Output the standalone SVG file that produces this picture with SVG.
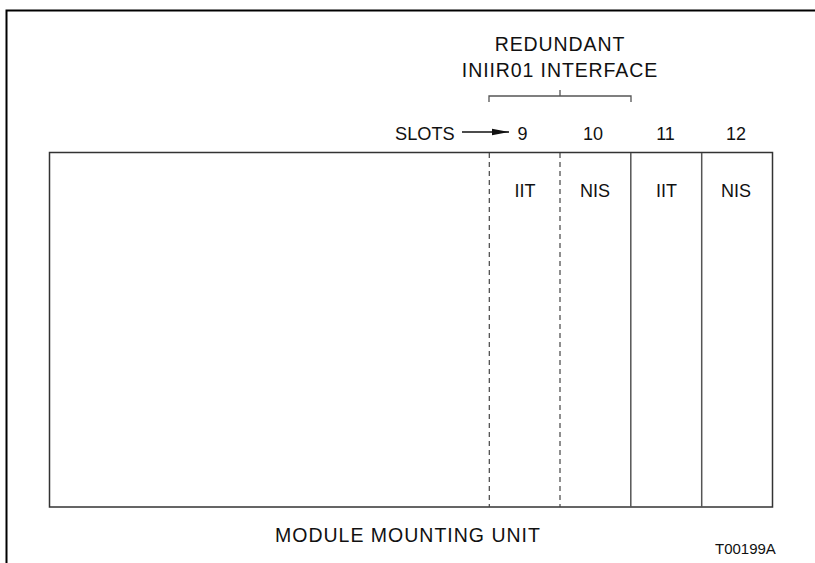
<svg xmlns="http://www.w3.org/2000/svg" width="815" height="563" viewBox="0 0 815 563">
<style>
text{font-family:"Liberation Sans",Arial,sans-serif;fill:#111;}
.t{font-size:19.5px;letter-spacing:0.9px;text-anchor:middle;}
.s{font-size:18px;text-anchor:middle;}
.frame{stroke:#000;stroke-width:2;fill:none;}
.box{stroke:#333;stroke-width:1.5;fill:none;}
.dash{stroke:#444;stroke-width:1.2;stroke-dasharray:5 4;fill:none;}
.solid{stroke:#555;stroke-width:1.5;fill:none;}
.br{stroke:#555;stroke-width:1.3;fill:none;}
</style>
<defs>
<marker id="ah" markerWidth="18" markerHeight="8" refX="17" refY="4" orient="auto" markerUnits="userSpaceOnUse">
<path d="M0,0.8 L17,4 L0,7.2 Z" fill="#111"/>
</marker>
</defs>
<path class="frame" d="M6.5,563 V10.5 H815"/>
<g id="title">
<text class="t" x="560" y="51">REDUNDANT</text>
<text class="t" x="560" y="77">INIIR01 INTERFACE</text>
</g>
<g id="bracket">
<path class="br" d="M489,102 V96 H631 V102 M560,96 V90"/>
</g>
<g id="slots-label">
<text x="395" y="139.5" style="font-size:18.2px">SLOTS</text>
</g>
<g id="slot-numbers">
<text class="s" x="522.5" y="139.5">9</text>
<text class="s" x="593" y="139.5">10</text>
<text class="s" x="665.5" y="139.5">11</text>
<text class="s" x="736" y="139.5">12</text>
</g>
<g id="unit">
<rect class="box" x="49.5" y="152.5" width="723" height="354.5"/>
</g>
<g id="slot9"><text class="s" x="525" y="197">IIT</text></g>
<g id="slot10"><text class="s" x="595" y="197">NIS</text></g>
<g id="slot11"><text class="s" x="666.5" y="197">IIT</text></g>
<g id="slot12"><text class="s" x="736" y="197">NIS</text></g>
<g id="connectors">
<line x1="462" y1="132" x2="509" y2="132" stroke="#111" stroke-width="1.3" marker-end="url(#ah)"/>
<line class="dash" x1="489.3" y1="153" x2="489.3" y2="507"/>
<line class="dash" x1="560" y1="153" x2="560" y2="507"/>
<line class="solid" x1="630.8" y1="153" x2="630.8" y2="507"/>
<line class="solid" x1="701.7" y1="153" x2="701.7" y2="507"/>
</g>
<g id="footer">
<text x="275" y="541.5" style="font-size:19.5px;letter-spacing:1px">MODULE MOUNTING UNIT</text>
<text x="715" y="554" style="font-size:15px">T00199A</text>
</g>
</svg>
